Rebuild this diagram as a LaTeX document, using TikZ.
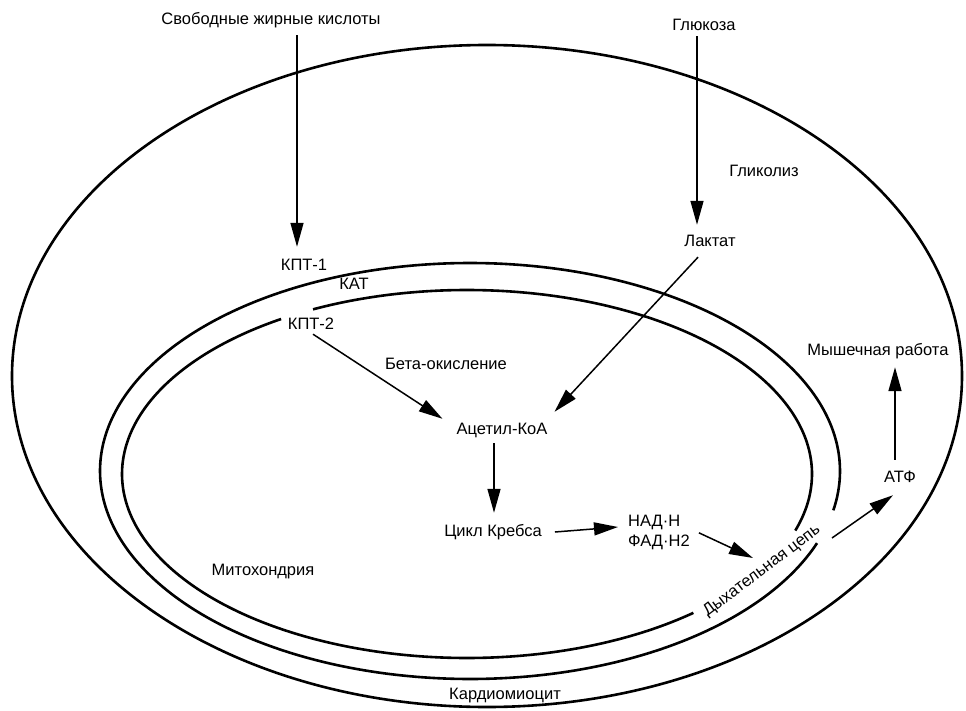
\documentclass[tikz,border=0pt]{standalone}
\usepackage{fontspec}
\setmainfont{Liberation Sans}
\usetikzlibrary{arrows.meta}
\begin{document}
\begin{tikzpicture}[x=1pt,y=-1pt,
  lbl/.style={font=\fontsize{16.5}{19}\selectfont, inner sep=1pt, text height=12pt, text depth=4pt},
  arr/.style={line width=1.5pt, -{Triangle[length=24pt,width=13pt]}},
  memb/.style={line width=2.6pt}]
\useasboundingbox (0,0) rectangle (966,711);
% cell
\draw[memb] (487,376) ellipse [x radius=475pt, y radius=331pt];
% mitochondrion outer membrane
\draw[memb] plot[domain=20.3:370.9, samples=200, smooth] ({470+370*cos(\x)}, {471+208*sin(\x)});
% mitochondrion inner membrane
\draw[memb] plot[domain=49:237.4, samples=150, smooth] ({467+345*cos(\x)}, {474+184*sin(\x)});
\draw[memb] plot[domain=243.5:377.9, samples=150, smooth] ({467+345*cos(\x)}, {474+184*sin(\x)});

% labels
\node[lbl, anchor=base] (ffa) at (271,25) {Свободные жирные кислоты};
\node[lbl, anchor=base] (glucose) at (704,31) {Глюкоза};
\node[lbl, anchor=base] (glycolysis) at (764,177) {Гликолиз};
\node[lbl, anchor=base] (lactat) at (710,247) {Лактат};
\node[lbl, anchor=base] (kpt1) at (304,271) {КПТ-1};
\node[lbl, anchor=base] (kat) at (354,289) {КАТ};
\node[lbl, anchor=base] (kpt2) at (311,329) {КПТ-2};
\node[lbl, anchor=base] (beta) at (446,369) {Бета-окисление};
\node[lbl, anchor=base] (acetyl) at (502,434) {Ацетил-КоА};
\node[lbl, anchor=base] (krebs) at (493,536) {Цикл Кребса};
\node[lbl, anchor=base west] (nad) at (627,526) {НАД·Н};
\node[lbl, anchor=base west] (fad) at (627,546) {ФАД·Н2};
\node[lbl, rotate=37] (resp) at (762,571) {Дыхательная цепь};
\node[lbl, anchor=base] (atf) at (900,482) {АТФ};
\node[lbl, anchor=base] (work) at (878,355) {Мышечная работа};
\node[lbl, anchor=base] (mito) at (263,575) {Митохондрия};
\node[lbl, anchor=base] (cardio) at (505,699) {Кардиомиоцит};

% connectors
\draw[arr] ([xshift=26pt,yshift=-5pt]ffa.south) -- ([xshift=-7pt,yshift=11pt]kpt1.north);
\draw[arr] ([xshift=-7pt]glucose.south) -- ([xshift=-13pt,yshift=9pt]lactat.north);
\draw[arr] ([xshift=-12pt,yshift=-5pt]lactat.south) -- ([xshift=6pt,yshift=9pt]acetyl.north east);
\draw[arr] ([xshift=2pt]kpt2.south) -- ([xshift=-13pt,yshift=2pt]acetyl.north west);
\draw[arr] ([xshift=-8pt,yshift=-4pt]acetyl.south) -- ([xshift=1pt,yshift=10pt]krebs.north);
\draw[arr] ([xshift=12pt]krebs.east) -- ([xshift=-9pt,yshift=-5pt]nad.west);
\draw[arr] ([xshift=8pt]fad.north east) -- ([xshift=-9pt,yshift=13pt]resp.center);
\draw[arr] ([xshift=70pt,yshift=33pt]resp.center) -- ([xshift=-7pt,yshift=-8pt]atf.south);
\draw[arr] ([xshift=-5pt,yshift=9pt]atf.north) -- ([xshift=17pt,yshift=-7pt]work.south);
\end{tikzpicture}
\end{document}
